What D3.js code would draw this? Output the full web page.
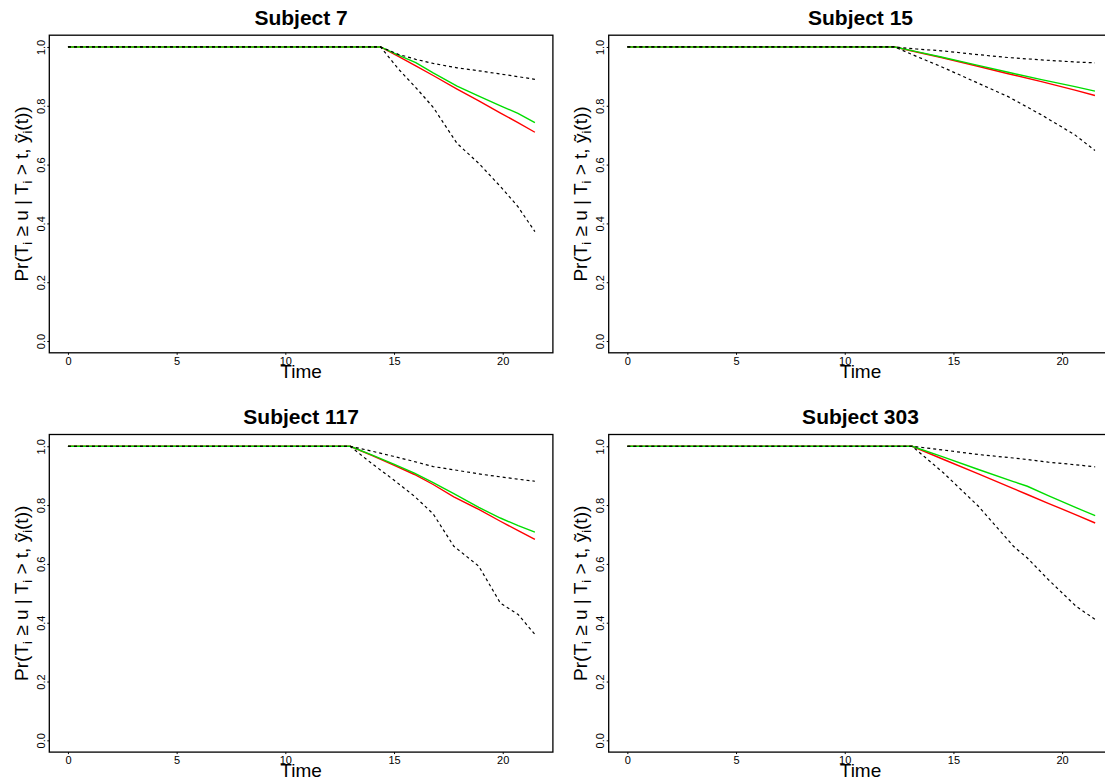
<!DOCTYPE html>
<html>
<head>
<meta charset="utf-8">
<script src="https://cdn.jsdelivr.net/npm/d3@7"></script>
<style>
  html, body { margin: 0; padding: 0; background: #fff; }
  svg { display: block; }
  text { font-family: "Liberation Sans", Arial, Helvetica, sans-serif; white-space: pre; }
</style>
</head>
<body>
<svg id="chart" width="1105" height="780"></svg>
<script>
// Conditional survival predictions per subject:
// red = mean estimate, green = median estimate, black dashed = 95% interval.
const panelTitles = ["Subject 7", "Subject 15", "Subject 117", "Subject 303"];

const time7  = [0, 14.38, 15.2, 16.0, 16.8, 17.9, 18.9, 19.9, 20.7, 21.48];
const mean7  = [1, 1, 0.968, 0.936, 0.903, 0.857, 0.817, 0.775, 0.743, 0.710];
const med7   = [1, 1, 0.972, 0.947, 0.912, 0.867, 0.833, 0.800, 0.774, 0.743];
const upper7 = [1, 1, 0.975, 0.958, 0.944, 0.929, 0.919, 0.908, 0.899, 0.890];
const lower7 = [1, 1, 0.925, 0.862, 0.795, 0.672, 0.604, 0.525, 0.457, 0.372];

const time15  = [0, 12.3, 13.3, 14.44, 15.98, 17.52, 19.05, 20.59, 21.51];
const mean15  = [1, 1, 0.983, 0.964, 0.937, 0.909, 0.882, 0.853, 0.835];
const med15   = [1, 1, 0.984, 0.966, 0.940, 0.914, 0.889, 0.865, 0.850];
const upper15 = [1, 1, 0.993, 0.987, 0.975, 0.964, 0.956, 0.949, 0.946];
const lower15 = [1, 1, 0.968, 0.933, 0.882, 0.831, 0.769, 0.701, 0.648];

const time117  = [0, 12.98, 14.0, 14.96, 15.94, 16.8, 17.75, 18.9, 19.89, 20.71, 21.48];
const mean117  = [1, 1, 0.968, 0.937, 0.904, 0.870, 0.828, 0.785, 0.745, 0.713, 0.683];
const med117   = [1, 1, 0.970, 0.940, 0.909, 0.876, 0.839, 0.792, 0.756, 0.730, 0.708];
const upper117 = [1, 1, 0.983, 0.966, 0.948, 0.931, 0.920, 0.906, 0.896, 0.888, 0.881];
const lower117 = [1, 1, 0.940, 0.887, 0.830, 0.770, 0.660, 0.592, 0.467, 0.428, 0.360];

const time303  = [0, 13.1, 14.55, 16.15, 17.76, 18.4, 19.36, 20.64, 21.52];
const mean303  = [1, 1, 0.955, 0.906, 0.856, 0.836, 0.806, 0.767, 0.739];
const med303   = [1, 1, 0.963, 0.921, 0.880, 0.864, 0.832, 0.791, 0.764];
const upper303 = [1, 1, 0.987, 0.972, 0.960, 0.955, 0.946, 0.937, 0.930];
const lower303 = [1, 1, 0.909, 0.796, 0.660, 0.620, 0.547, 0.456, 0.411];

const xTicks = [0, 5, 10, 15, 20];
const yTicks = [0, 0.2, 0.4, 0.6, 0.8, 1.0];
const xLimits = [0, 21.45];
const yLimits = [0, 1];

const panels = [
  { title: panelTitles[0], t: time7,   mean: mean7,   med: med7,   up: upper7,   lo: lower7 },
  { title: panelTitles[1], t: time15,  mean: mean15,  med: med15,  up: upper15,  lo: lower15 },
  { title: panelTitles[2], t: time117, mean: mean117, med: med117, up: upper117, lo: lower117 },
  { title: panelTitles[3], t: time303, mean: mean303, med: med303, up: upper303, lo: lower303 }
];

// Layout of the 2x2 grid (plot boxes)
const boxW = 503.6, boxH = 317.6;
const colLeft = [49.3, 608.7];
const rowTop = [35.2, 434.5];

// R-style 4% axis expansion
function expand(lim) {
  const d = (lim[1] - lim[0]) * 0.04;
  return [lim[0] - d, lim[1] + d];
}

const svg = d3.select("#chart");

const x = d3.scaleLinear().domain(expand(xLimits)).range([0, boxW]);
const y = d3.scaleLinear().domain(expand(yLimits)).range([boxH, 0]);

const line = d3.line().x(d => x(d[0])).y(d => y(d[1]));

panels.forEach((p, i) => {
  const col = i % 2, row = Math.floor(i / 2);
  const g = svg.append("g")
    .attr("transform", `translate(${colLeft[col]},${rowTop[row]})`);

  // series
  const pairs = arr => p.t.map((t, k) => [t, arr[k]]);
  g.append("path").attr("d", line(pairs(p.mean)))
    .attr("fill", "none").attr("stroke", "#ff0000").attr("stroke-width", 1.4);
  g.append("path").attr("d", line(pairs(p.med)))
    .attr("fill", "none").attr("stroke", "#00dd00").attr("stroke-width", 1.4);
  [p.up, p.lo].forEach(arr => {
    g.append("path").attr("d", line(pairs(arr)))
      .attr("fill", "none").attr("stroke", "#000")
      .attr("stroke-width", 1.2).attr("stroke-dasharray", "3,3");
  });

  // x axis
  const xa = g.append("g").attr("transform", `translate(0,${boxH})`)
    .call(d3.axisBottom(x).tickValues(xTicks).tickSize(2).tickPadding(2.4)
      .tickFormat(d3.format("d")));
  xa.select(".domain").remove();
  xa.selectAll("text").attr("font-size", 11).attr("fill", "#000")
    .style("font-family", "'Liberation Sans', Arial, sans-serif");
  xa.selectAll("line").attr("stroke", "#000");

  // y axis with labels parallel to the axis
  const ya = g.append("g")
    .call(d3.axisLeft(y).tickValues(yTicks).tickSize(2).tickFormat(d3.format(".1f")));
  ya.select(".domain").remove();
  ya.selectAll("line").attr("stroke", "#000");
  ya.selectAll("text")
    .attr("x", null).attr("dy", null)
    .attr("text-anchor", "middle")
    .attr("transform", "translate(-4.8,0) rotate(-90)")
    .attr("font-size", 11).attr("fill", "#000")
    .style("font-family", "'Liberation Sans', Arial, sans-serif");

  // plot box
  g.append("rect").attr("x", 0).attr("y", 0).attr("width", boxW).attr("height", boxH)
    .attr("fill", "none").attr("stroke", "#000").attr("stroke-width", 1.3);

  // title
  g.append("text").attr("x", boxW / 2).attr("y", -10.2)
    .attr("text-anchor", "middle").attr("font-size", 21).attr("font-weight", "bold")
    .text(p.title);

  // x label
  g.append("text").attr("x", boxW / 2).attr("y", boxH + 25.2)
    .attr("text-anchor", "middle").attr("font-size", 19)
    .text("Time");

  // y label: Pr(T_i ≥ u | T_i > t, ỹ_i(t))
  const yl = g.append("text")
    .attr("transform", `translate(-21.3,${boxH / 2}) rotate(-90)`)
    .attr("text-anchor", "middle").attr("font-size", 19);
  const parts = [
    ["Pr(T", false], ["i", true], [" ≥ u | T", false], ["i", true],
    [" > t, ỹ", false], ["i", true], ["(t))", false]
  ];
  let shifted = false;
  parts.forEach(([s, sub]) => {
    const ts = yl.append("tspan").text(s);
    if (sub) { ts.attr("font-size", 13).attr("dy", 4); shifted = true; }
    else if (shifted) { ts.attr("dy", -4); shifted = false; }
  });
});
</script>
</body>
</html>
